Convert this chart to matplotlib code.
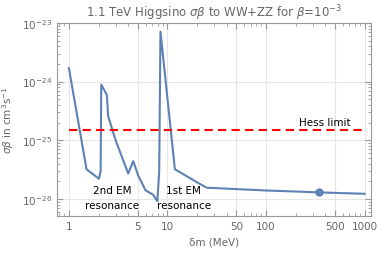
import numpy as np
import matplotlib
matplotlib.use('Agg')
import matplotlib.pyplot as plt
from matplotlib.ticker import FixedLocator, FixedFormatter, LogLocator, NullFormatter

# curve
dm = [1.0, 1.51, 2.02, 2.1, 2.13, 2.43, 2.5, 2.98, 4.0, 4.5, 5.05, 6.0, 7.18, 7.9,
      8.25, 8.5, 11.9, 21.3, 25.0, 100.0, 345.0, 1000.0]
sigv = [1.7e-24, 3.2e-26, 2.2e-26, 3.0e-26, 8.9e-25, 5.9e-25, 2.6e-25, 1.0e-25, 2.7e-26,
        4.4e-26, 2.5e-26, 1.4e-26, 1.17e-26, 9.1e-27, 2.9e-26, 7.1e-24, 3.2e-26, 1.8e-26,
        1.55e-26, 1.39e-26, 1.29e-26, 1.22e-26]
mark_dm = [345.0]
mark_sv = [1.29e-26]
hess = 1.5e-25
hess_x = [1.0, 1000.0]

xticks = [1, 5, 10, 50, 100, 500, 1000]
xlabels = ['1', '5', '10', '50', '100', '500', '1000']
yticks = [1e-26, 1e-25, 1e-24, 1e-23]
ylabels = ['$10^{-26}$', '$10^{-25}$', '$10^{-24}$', '$10^{-23}$']

gray = '#666666'
blue = '#5E81B5'

fig = plt.figure(figsize=(3.79, 2.55), dpi=100)
ax = fig.add_axes([0.150, 0.149, 0.829, 0.757])

ax.plot(dm, sigv, color=blue, lw=1.5)
ax.plot(mark_dm, mark_sv, 'o', color=blue, ms=5)
ax.plot(hess_x, [hess, hess], color='red', lw=1.5, ls=(0, (4, 2.5)))

ax.set_xscale('log')
ax.set_yscale('log')
ax.set_xlim(0.755, 1164)
ax.set_ylim(5.1e-27, 1e-23)

ax.xaxis.set_major_locator(FixedLocator(xticks))
ax.xaxis.set_major_formatter(FixedFormatter(xlabels))
ax.xaxis.set_minor_locator(LogLocator(base=10, subs=np.arange(2, 10)))
ax.xaxis.set_minor_formatter(NullFormatter())
ax.yaxis.set_major_locator(FixedLocator(yticks))
ax.yaxis.set_major_formatter(FixedFormatter(ylabels))
ax.yaxis.set_minor_locator(LogLocator(base=10, subs=np.arange(2, 10), numticks=20))
ax.yaxis.set_minor_formatter(NullFormatter())

ax.grid(True, which='major', color='#e6e6e6', lw=0.8)
ax.set_axisbelow(True)
ax.tick_params(which='both', direction='in', top=True, right=True, colors='#999999',
               labelcolor=gray, labelsize=7.5)
ax.tick_params(which='major', length=4)
ax.tick_params(which='minor', length=2)
for s in ax.spines.values():
    s.set_color('#999999')

ax.text(730, 1.65e-25, 'Hess limit', fontsize=7.5, ha='right', va='bottom')
ax.text(2.76, 1.07e-26, '2nd EM\nresonance', fontsize=7.5, ha='center', va='center',
        linespacing=1.6)
ax.text(14.6, 1.07e-26, '1st EM\nresonance', fontsize=7.5, ha='center', va='center',
        linespacing=1.6)

ax.set_title(r'1.1 TeV Higgsino $\sigma\beta$ to WW+ZZ for $\beta$=10$^{-3}$',
             fontsize=8.5, color=gray, pad=5)
ax.set_xlabel('δm (MeV)', fontsize=7.5, color=gray)
ax.set_ylabel(r'$\sigma\beta$ in cm$^3$s$^{-1}$', fontsize=7.5, color=gray)

fig.savefig('out.png', dpi=100)
